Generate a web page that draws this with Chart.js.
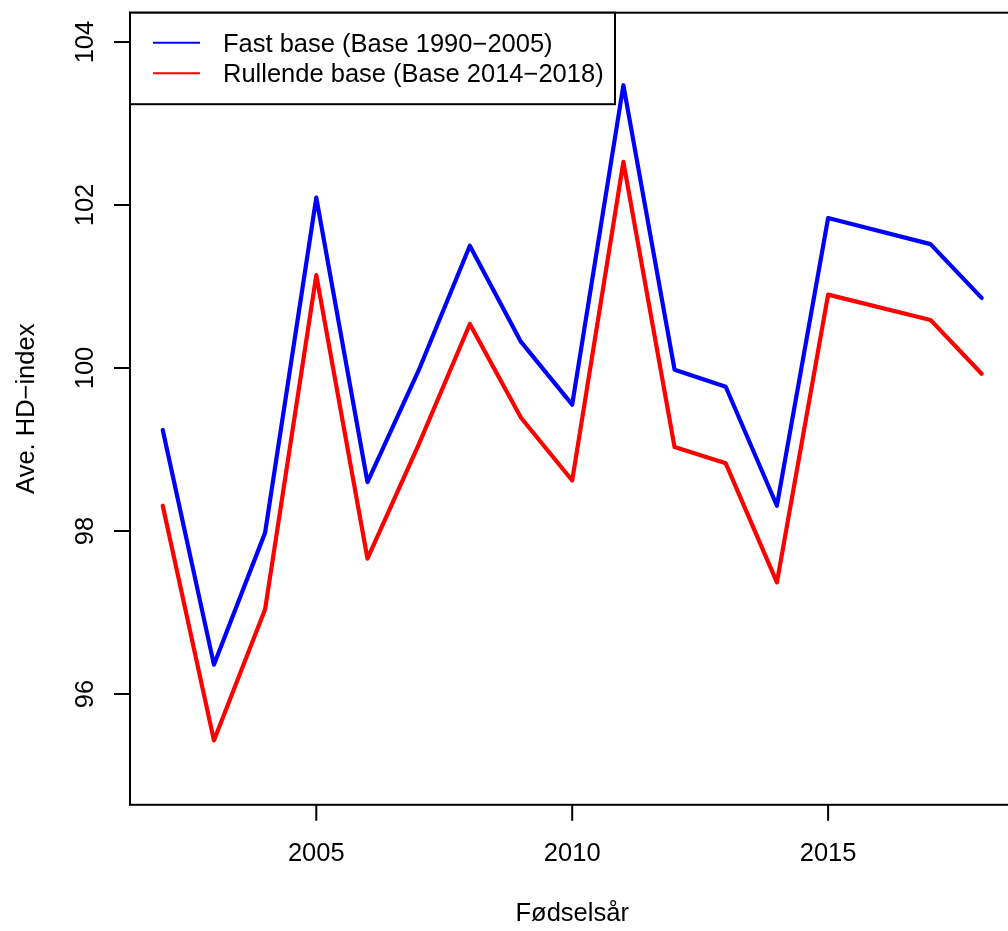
<!DOCTYPE html>
<html>
<head>
<meta charset="utf-8">
<title>Ave. HD-index</title>
<script src="https://cdn.jsdelivr.net/npm/chart.js@4.4.1/dist/chart.umd.min.js"></script>
<style>
  html, body { margin: 0; padding: 0; background: #fff; overflow: hidden; width: 1008px; height: 931px; }
  canvas { display: block; }
</style>
</head>
<body>
<canvas id="hd-chart" width="1020" height="931"></canvas>
<script>
// --- data ---
const years = [2002, 2003, 2004, 2005, 2006, 2007, 2008, 2009, 2010, 2011, 2012, 2013, 2014, 2015, 2017, 2018];
const fastBase = [99.24, 96.36, 97.98, 102.09, 98.60, 99.97, 101.50, 100.32, 99.55, 103.47, 99.98, 99.77, 98.31, 101.84, 101.52, 100.86];
const rullendeBase = [98.31, 95.43, 97.04, 101.14, 97.66, 99.06, 100.54, 99.39, 98.62, 102.53, 99.03, 98.83, 97.37, 100.90, 100.59, 99.93];

const xTicks = [2005, 2010, 2015];
const yTicks = [96, 98, 100, 102, 104];
const seriesLabels = ['Fast base (Base 1990\u22122005)', 'Rullende base (Base 2014\u22122018)'];
const seriesColors = ['#0000ff', '#ff0000'];
const xTitle = 'Fødselsår';
const yTitle = 'Ave. HD\u2212index';

document.addEventListener('DOMContentLoaded', () => {
    const canvas = document.getElementById('hd-chart');
    const FONT = '25.5px "Liberation Sans", Arial, Helvetica, sans-serif';

    // R-like axes, box and legend, drawn on top of the library's scales
    const baseAxes = {
        id: 'baseAxes',
        afterDatasetsDraw(chart) {
            const ctx = chart.ctx;
            const area = chart.chartArea;
            const xs = chart.scales.x;
            const ys = chart.scales.y;
            ctx.save();
            ctx.strokeStyle = '#000';
            ctx.fillStyle = '#000';
            ctx.lineWidth = 2;
            ctx.font = FONT;

            // box
            ctx.strokeRect(area.left, area.top, area.right - area.left, area.bottom - area.top);

            // x ticks + labels
            ctx.textAlign = 'center';
            ctx.textBaseline = 'alphabetic';
            xTicks.forEach(v => {
                const px = xs.getPixelForValue(v);
                ctx.beginPath();
                ctx.moveTo(px, area.bottom);
                ctx.lineTo(px, area.bottom + 16);
                ctx.stroke();
                ctx.fillText(String(v), px, 861);
            });

            // y ticks + rotated labels
            yTicks.forEach(v => {
                const py = ys.getPixelForValue(v);
                ctx.beginPath();
                ctx.moveTo(area.left - 16, py);
                ctx.lineTo(area.left, py);
                ctx.stroke();
                ctx.save();
                ctx.translate(93, py);
                ctx.rotate(-Math.PI / 2);
                ctx.fillText(String(v), 0, 0);
                ctx.restore();
            });

            // axis titles
            const midX = (area.left + area.right) / 2;
            const midY = (area.top + area.bottom) / 2;
            ctx.fillText(xTitle, midX, 921);
            ctx.save();
            ctx.translate(34, midY);
            ctx.rotate(-Math.PI / 2);
            ctx.fillText(yTitle, 0, 0);
            ctx.restore();

            // legend box (top-left)
            ctx.fillStyle = '#fff';
            ctx.fillRect(area.left, area.top, 485, 91.5);
            ctx.strokeRect(area.left, area.top, 485, 91.5);
            ctx.textAlign = 'left';
            const rows = [42.7, 73.3];
            seriesLabels.forEach((label, i) => {
                ctx.strokeStyle = seriesColors[i];
                ctx.lineWidth = 2;
                ctx.beginPath();
                ctx.moveTo(153, rows[i]);
                ctx.lineTo(200, rows[i]);
                ctx.stroke();
                ctx.fillStyle = '#000';
                ctx.fillText(label, 223, rows[i] + 9);
            });
            ctx.restore();
        }
    };

    const toPoints = vals => years.map((y, i) => ({ x: y, y: vals[i] }));

    new Chart(canvas.getContext('2d'), {
        type: 'line',
        data: {
            datasets: [
                {
                    label: seriesLabels[0],
                    data: toPoints(fastBase),
                    borderColor: seriesColors[0],
                    borderWidth: 4.2,
                    pointRadius: 0,
                    tension: 0,
                    borderJoinStyle: 'round',
                    borderCapStyle: 'round'
                },
                {
                    label: seriesLabels[1],
                    data: toPoints(rullendeBase),
                    borderColor: seriesColors[1],
                    borderWidth: 4.2,
                    pointRadius: 0,
                    tension: 0,
                    borderJoinStyle: 'round',
                    borderCapStyle: 'round'
                }
            ]
        },
        options: {
            responsive: false,
            animation: false,
            devicePixelRatio: 1,
            layout: { padding: { left: 130, top: 12.7, right: 5.6, bottom: 126.2 } },
            plugins: {
                legend: { display: false },
                tooltip: { enabled: false }
            },
            scales: {
                // R pads the range by 4% on each side: x 2002..2018, y 95..104
                x: { type: 'linear', min: 2001.36, max: 2018.64, display: false },
                y: { type: 'linear', min: 94.64, max: 104.36, display: false }
            }
        },
        plugins: [baseAxes]
    });
});
</script>
</body>
</html>
